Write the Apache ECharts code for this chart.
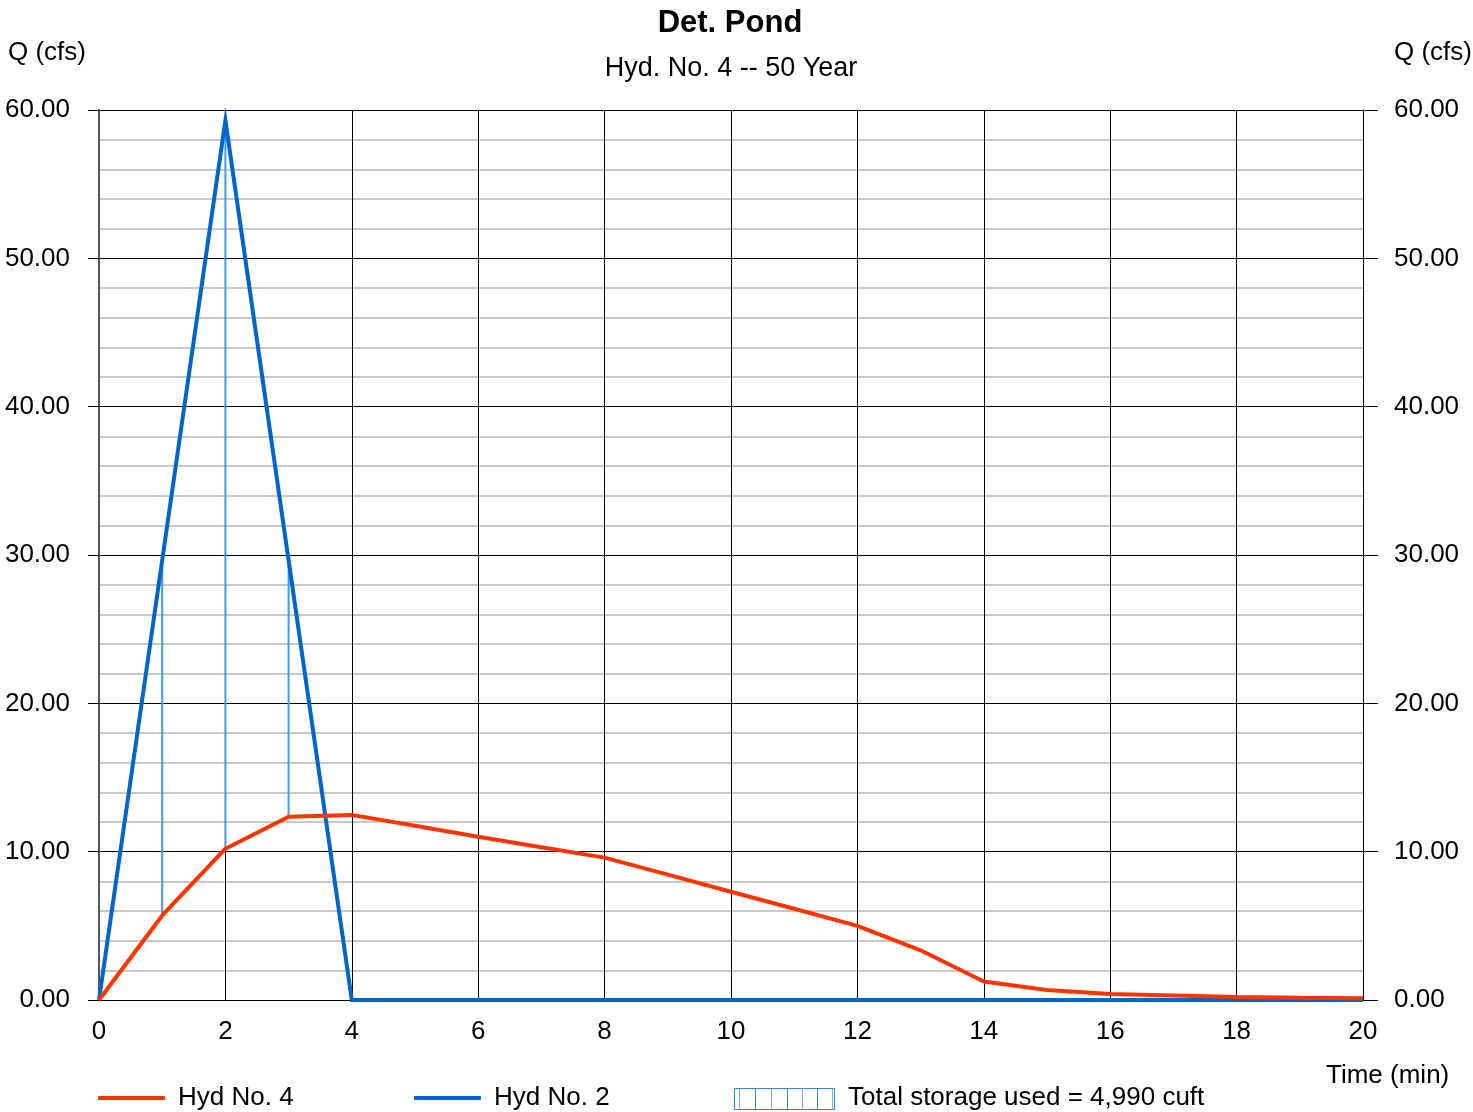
<!DOCTYPE html>
<html>
<head>
<meta charset="utf-8">
<script src="https://cdn.jsdelivr.net/npm/echarts@6/dist/echarts.min.js"></script>
<style>
html,body{margin:0;padding:0;background:#fff;}
#chart{width:1473px;height:1112px;}
</style>
</head>
<body>
<div id="chart"></div>
<script>
var times = [0,1,2,3,4,5,6,7,8,9,10,11,12,13,14,15,16,17,18,19,20];
var hyd4 = [0, 5.7, 10.2, 12.35, 12.48, 11.75, 11.0, 10.3, 9.6, 8.45, 7.3, 6.15, 5.0, 3.35, 1.25, 0.67, 0.4, 0.3, 0.2, 0.15, 0.11];
var hyd2 = [0, 29.65, 59.3, 29.65, 0, 0, 0, 0, 0, 0, 0, 0, 0, 0, 0, 0, 0, 0, 0, 0, 0];
var xTicks = [0,2,4,6,8,10,12,14,16,18,20];
var yTicks = [0,10,20,30,40,50,60];
var title = 'Det. Pond';
var subtitle = 'Hyd. No. 4 -- 50 Year';
var storageLabel = 'Total storage used = 4,990 cuft';

var FONT = '"Liberation Sans", Arial, sans-serif';
var FS = 26;
var red = '#ff3300', blue = '#0066cc', hatch = '#2f86dc';

var d4 = times.map(function(t,i){return [t, hyd4[i]];});
var d2 = times.map(function(t,i){return [t, hyd2[i]];});
var store = [];
times.forEach(function(t,i){
  if (hyd2[i] > hyd4[i] && i > 0) store.push([t, hyd4[i], hyd2[i]]);
});

var chart = echarts.init(document.getElementById('chart'), null, {renderer:'canvas'});
var yLabelFmt = function(v){ return v.toFixed(2); };
var plain = {fontFamily:FONT, fontSize:FS, fontWeight:'normal', color:'#000'};
chart.setOption({
  animation:false,
  backgroundColor:'#fff',
  textStyle:{fontFamily:FONT},
  title:[
    {text:title, left:730, top:8, textAlign:'center', padding:0, textStyle:{fontFamily:FONT, fontSize:31, fontWeight:'bold', color:'#000'}},
    {text:subtitle, left:731, top:55, textAlign:'center', padding:0, textStyle:{fontFamily:FONT, fontSize:27, fontWeight:'normal', color:'#000'}},
    {text:'Q (cfs)', left:8, top:40, padding:0, textStyle:plain},
    {text:'Q (cfs)', left:1394, top:40, padding:0, textStyle:plain},
    {text:'Time (min)', left:1326, top:1063, padding:0, textStyle:plain}
  ],
  grid:{left:99, right:110, top:110, bottom:112, containLabel:false},
  xAxis:{
    type:'value', min:0, max:20, interval:2,
    axisLine:{show:true, lineStyle:{color:'#000', width:1}},
    axisTick:{show:false},
    axisLabel:{show:true, fontFamily:FONT, fontSize:FS, color:'#000', margin:19,
      customValues: xTicks},
    splitLine:{show:true, lineStyle:{color:'#000', width:1}}
  },
  yAxis:[
    {
      type:'value', min:0, max:60, interval:10, position:'left',
      axisLine:{show:true, onZero:false, lineStyle:{color:'#555', width:2}},
      axisTick:{show:true, length:11, lineStyle:{color:'#000', width:1}},
      axisLabel:{fontFamily:FONT, fontSize:FS, color:'#000', margin:29, formatter:yLabelFmt, customValues:yTicks},
      splitLine:{show:true, lineStyle:{color:'#000', width:1}},
      minorTick:{show:false, splitNumber:5},
      minorSplitLine:{show:true, lineStyle:{color:'#c8c8c8', width:2}}
    },
    {
      type:'value', min:0, max:60, interval:10, position:'right',
      axisLine:{show:true, onZero:false, lineStyle:{color:'#000', width:1}},
      axisTick:{show:true, length:15, lineStyle:{color:'#000', width:1}},
      axisLabel:{fontFamily:FONT, fontSize:FS, color:'#000', margin:31, formatter:yLabelFmt, customValues:yTicks},
      splitLine:{show:false}
    }
  ],
  legend:[
    {data:[{name:'Hyd No. 4', icon:'roundRect', itemStyle:{color:red}}], left:98, top:1085, padding:0, itemWidth:67, itemHeight:4,
     textStyle:{fontFamily:FONT, fontSize:FS, color:'#000', padding:[0,0,0,8]}},
    {data:[{name:'Hyd No. 2', icon:'roundRect', itemStyle:{color:blue}}], left:414, top:1085, padding:0, itemWidth:67, itemHeight:4,
     textStyle:{fontFamily:FONT, fontSize:FS, color:'#000', padding:[0,0,0,8]}}
  ],
  graphic:[
    {type:'group', left:732, top:1086, children:(function(){
      var c = [{type:'rect', shape:{x:0.5,y:0.5,width:100,height:21}, style:{fill:'none', stroke:hatch, lineWidth:1}}];
      var xs = [5, 21, 37, 53, 68, 83, 98];
      for (var k=0;k<xs.length;k++) c.push({type:'line', shape:{x1:xs[k]+0.5,y1:0.5,x2:xs[k]+0.5,y2:21.5}, style:{stroke:(k%2? hatch : '#6fb0ec'), lineWidth:1}});
      return c;
    })()},
    {type:'text', left:848, top:1085, style:{text:storageLabel, font:FS+'px '+FONT, fill:'#000'}}
  ],
  series:[
    {
      name:'Storage', type:'custom', data:store, z:3,
      renderItem:function(params, api){
        var p1 = api.coord([api.value(0), api.value(1)]);
        var p2 = api.coord([api.value(0), api.value(2)]);
        return {type:'line', shape:{x1:p1[0], y1:p1[1], x2:p2[0], y2:p2[1]}, style:{stroke:'#3d9be9', lineWidth:2}};
      }
    },
    {name:'Hyd No. 2', type:'line', data:d2, showSymbol:false, symbol:'none', z:4,
     lineStyle:{color:blue, width:4, join:'miter'}, itemStyle:{color:blue}},
    {name:'Hyd No. 4', type:'line', data:d4, showSymbol:false, symbol:'none', z:5,
     lineStyle:{color:red, width:4}, itemStyle:{color:red}}
  ]
});
</script>
</body>
</html>
